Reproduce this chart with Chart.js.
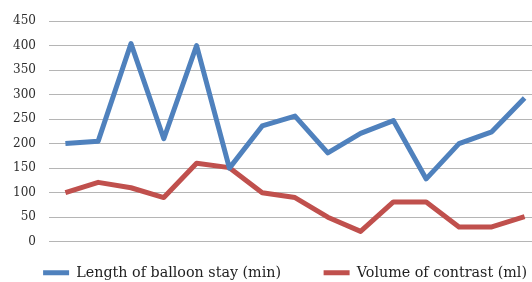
<!DOCTYPE html>
<html>
<head>
<meta charset="utf-8">
<script src="https://cdn.jsdelivr.net/npm/chart.js@4"></script>
<style>
  html, body { margin: 0; padding: 0; background: #fff; overflow: hidden; }
  #wrap { width: 541px; height: 290px; }
</style>
</head>
<body>
<div id="wrap"><canvas id="myChart"></canvas></div>
<script>
  // *****************Data*****************
  const CASES = ["1", "2", "3", "4", "5", "6", "7", "8", "9", "10", "11", "12", "13", "14", "15"];
  const balloonStay = [200, 205, 404, 210, 400, 150, 236, 256, 181, 221, 247, 128, 200, 224, 293];
  const contrastVolume = [100, 121, 110, 90, 160, 151, 100, 90, 50, 21, 81, 81, 30, 30, 51];
  const Y_TICKS = [0, 50, 100, 150, 200, 250, 300, 350, 400, 450];

  const BLUE = "rgb(79, 129, 189)";
  const RED = "rgb(192, 80, 77)";

  const data = {
    labels: CASES,
    datasets: [
      {
        label: "Length of balloon stay (min)",
        data: balloonStay,
        borderColor: BLUE,
        backgroundColor: BLUE,
      },
      {
        label: "Volume of contrast (ml)",
        data: contrastVolume,
        borderColor: RED,
        backgroundColor: RED,
      },
    ],
  };

  const config = {
    type: "line",
    data: data,
    options: {
      responsive: true,
      maintainAspectRatio: false,
      animation: false,
      layout: { padding: { top: 21, left: 0, right: 0, bottom: 0 } },
      elements: {
        line: { borderWidth: 5, tension: 0, borderJoinStyle: "round", borderCapStyle: "butt" },
        point: { radius: 0, hoverRadius: 0 },
      },
      scales: {
        x: {
          offset: true,
          grid: { display: false },
          border: { display: false },
          ticks: { display: false },
          afterFit: (axis) => { axis.height = 10; },
        },
        y: {
          min: 0,
          max: 450,
          afterBuildTicks: (axis) => { axis.ticks = Y_TICKS.map((v) => ({ value: v })); },
          afterFit: (axis) => { axis.width = 49; },
          border: { display: false },
          grid: { color: "#b5b5b5", lineWidth: 1, drawTicks: false },
          ticks: {
            padding: 13,
            color: "#2e2e2e",
            font: { family: "DejaVu Serif", size: 12 },
          },
        },
      },
      plugins: {
        tooltip: { enabled: false },
        legend: {
          position: "bottom",
          align: "end",
          labels: {
            boxWidth: 26,
            boxHeight: 5,
            padding: 14,
            color: "#222",
            font: { family: "DejaVu Serif", size: 14.3 },
            generateLabels: (chart) =>
              Chart.defaults.plugins.legend.labels.generateLabels(chart).map((l, i) => ({
                ...l,
                text: i === 0 ? l.text + "\u2002\u2002\u2002\u2002" : l.text,
                fillStyle: l.strokeStyle,
                lineWidth: 0,
              })),
          },
        },
      },
    },
  };

  const myChart = new Chart(document.getElementById("myChart"), config);
</script>
</body>
</html>
